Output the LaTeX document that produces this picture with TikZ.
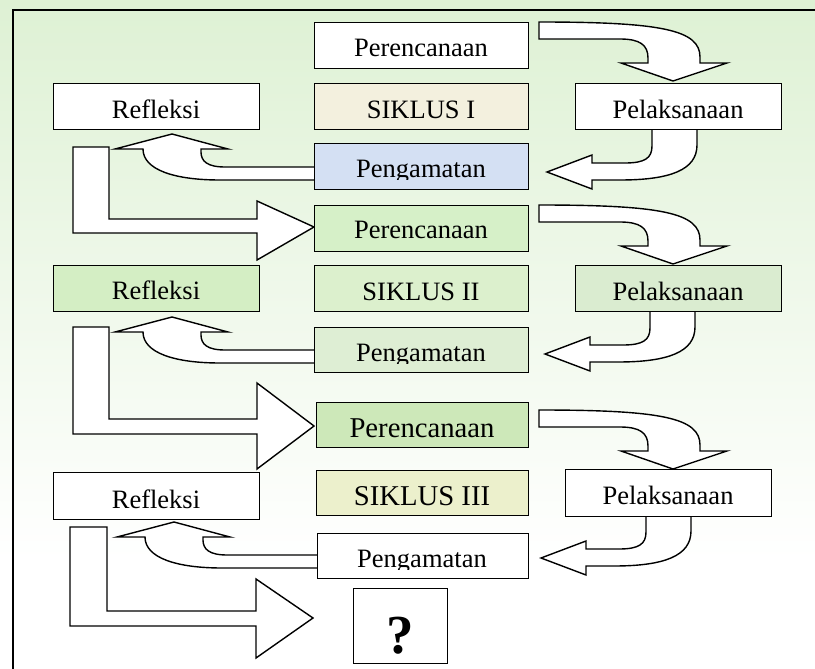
\documentclass[tikz,border=0pt]{standalone}
\usepackage{fontspec}
\setmainfont{Liberation Serif}
\definecolor{bggreen}{RGB}{222,241,212}
\definecolor{cbeige}{RGB}{243,240,222}
\definecolor{cblue}{RGB}{212,224,243}
\definecolor{cgreenA}{RGB}{214,240,200}
\definecolor{cgreenB}{RGB}{212,238,196}
\definecolor{cgreenC}{RGB}{220,240,205}
\definecolor{cgreenD}{RGB}{218,236,208}
\definecolor{cgreenE}{RGB}{222,238,212}
\definecolor{cgreenF}{RGB}{205,232,185}
\definecolor{cyellow}{RGB}{236,240,204}
\newcommand{\mybox}[6]{%
  \node[box, fill=#6, anchor=north west, minimum width={#4-#2}, minimum height={#5-#3}] (#1) at (#2,#3) {};}
\begin{document}
\begin{tikzpicture}[x=1pt,y=-1pt,
  box/.style={draw=black, line width=1.4pt, inner sep=0pt},
  arr/.style={draw=black, fill=white, line width=1.4pt, line join=miter},
  lbl/.style={anchor=base, inner sep=0pt, font=\fontsize{26.5}{30}\selectfont},
  lblbig/.style={anchor=base, inner sep=0pt, font=\fontsize{28.7}{32}\selectfont},
  frameline/.style={draw=black, line width=2pt}]
\useasboundingbox (0,0) rectangle (815,669);
\fill[white] (0,0) rectangle (815,669);
\shade[top color=bggreen, bottom color=white] (0,0) rectangle (815,560);
\draw[frameline] (13,669) -- (13,10) -- (815,10);

% ---------- block arrows ----------
% curved arrows Perencanaan -> Pelaksanaan
\foreach \dy in {0,183,388}{
\begin{scope}[shift={(0,\dy)}]
\draw[arr] (539,22) .. controls (662,22) and (700,30) .. (700,57) -- (700,63) -- (727,63) -- (673,81)
  -- (621,63) -- (648,63) -- (648,58) .. controls (648,45) and (640,39) .. (620,39) -- (539,39) -- cycle;
\end{scope}}
% curved arrows Pelaksanaan -> Pengamatan
\foreach \dx/\dy in {0/0,-2/182,-6/386}{
\begin{scope}[shift={(\dx,\dy)}]
\draw[arr] (652,129) -- (652,146) .. controls (652,158) and (645,163) .. (625,163) -- (592,163) -- (592,155)
  -- (547,172) -- (592,189) -- (592,180) -- (620,180) .. controls (670,180) and (697,170) .. (697,145)
  -- (697,129) -- cycle;
\end{scope}}
% curved arrows Pengamatan -> Refleksi
\foreach \dx/\dy in {0/0,0/183,2/388}{
\begin{scope}[shift={(\dx,\dy)}]
\draw[arr] (316,167) -- (225,167) .. controls (207,167) and (201,161) .. (201,152) -- (201,149) -- (228,149)
  -- (172,134) -- (115,149) -- (143,149) .. controls (143,170) and (175,180) .. (220,180) -- (316,180) -- cycle;
\end{scope}}
% bent arrows Refleksi -> next Perencanaan
\draw[arr] (73,147) -- (109,147) -- (109,219) -- (257,219) -- (257,201) -- (314,227) -- (257,260)
  -- (257,233) -- (73,233) -- cycle;
\draw[arr] (73,327) -- (109,327) -- (109,419) -- (257,419) -- (257,383) -- (314,426) -- (257,469)
  -- (257,434) -- (73,434) -- cycle;
\draw[arr] (70,527) -- (107,527) -- (107,611) -- (256,611) -- (256,579) -- (313,618) -- (256,658)
  -- (256,626) -- (70,626) -- cycle;

% ---------- boxes ----------
\mybox{pen1}{314}{22}{528}{68}{white}
\mybox{ref1}{53}{83}{259}{129}{white}
\mybox{sik1}{314}{83}{528}{129}{cbeige}
\mybox{pel1}{575}{83}{781}{129}{white}
\mybox{pga1}{314}{143}{528}{189}{cblue}
\mybox{pen2}{314}{205}{528}{251}{cgreenA}
\mybox{ref2}{53}{265}{259}{311}{cgreenB}
\mybox{sik2}{314}{265}{528}{311}{cgreenC}
\mybox{pel2}{575}{265}{781}{311}{cgreenD}
\mybox{pga2}{314}{327}{528}{372}{cgreenE}
\mybox{pen3}{316}{402}{528}{447}{cgreenF}
\mybox{ref3}{53}{472}{259}{519}{white}
\mybox{sik3}{316}{470}{528}{515}{cyellow}
\mybox{pel3}{565}{469}{771}{516}{white}
\mybox{pga3}{317}{533}{528}{578}{white}
\mybox{q}{353}{588}{447}{663}{white}

% ---------- texts ----------
\node[lbl] (pen1t) at (421,57) {Perencanaan};
\node[lbl] (ref1t) at (156,118) {Refleksi};
\node[lbl] (sik1t) at (421,118) {SIKLUS I};
\node[lbl] (pel1t) at (678,118) {Pelaksanaan};
\begin{scope}
\clip (314,143) rectangle (528,179.5);
\node[lbl] (pga1t) at (421,177.5) {Pengamatan};
\end{scope}
\node[lbl] (pen2t) at (421,238) {Perencanaan};
\node[lbl] (ref2t) at (156,299) {Refleksi};
\node[lbl] (sik2t) at (421,300) {SIKLUS II};
\node[lbl] (pel2t) at (678,300) {Pelaksanaan};
\begin{scope}
\clip (314,327) rectangle (528,363.5);
\node[lbl] (pga2t) at (421,361.5) {Pengamatan};
\end{scope}
\node[lblbig] (pen3t) at (422,437) {Perencanaan};
\node[lbl] (ref3t) at (156,508) {Refleksi};
\node[lblbig] (sik3t) at (422,505) {SIKLUS III};
\node[lbl] (pel3t) at (668,504) {Pelaksanaan};
\begin{scope}
\clip (317,533) rectangle (528,569);
\node[lbl] (pga3t) at (422,567) {Pengamatan};
\end{scope}
\node[anchor=base, inner sep=0pt, font=\fontsize{55}{60}\selectfont\bfseries] (qt) at (400,653) {?};
\end{tikzpicture}
\end{document}
